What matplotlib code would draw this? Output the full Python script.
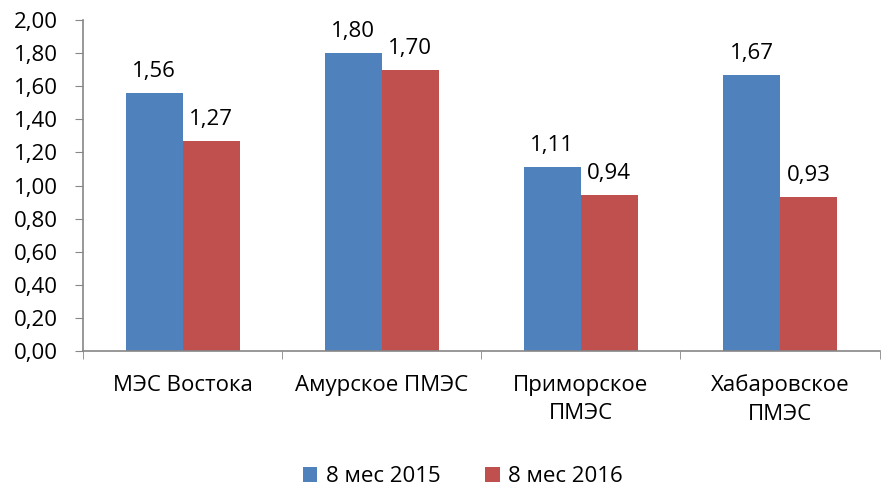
import numpy as np
import matplotlib.pyplot as plt
from matplotlib.ticker import FuncFormatter, FixedLocator

categories = ['МЭС Востока', 'Амурское ПМЭС', 'Приморское\nПМЭС', 'Хабаровское\nПМЭС']
series_names = ['8 мес 2015', '8 мес 2016']
values_2015 = [1.56, 1.80, 1.11, 1.67]
values_2016 = [1.27, 1.70, 0.94, 0.93]

plt.rcParams['font.family'] = ['Open Sans', 'DejaVu Sans']
fs = 16

fig = plt.figure(figsize=(8.85, 4.92), dpi=100)
ax = fig.add_axes([0.0938, 0.2866, 0.9, 0.6727])

x = np.arange(len(categories))
w = 0.286
colors = ['#4F81BD', '#C0504D']
for i, (vals, name) in enumerate([(values_2015, series_names[0]), (values_2016, series_names[1])]):
    pos = x - w / 2 + i * w
    ax.bar(pos, vals, width=w, color=colors[i], label=name)
    for p, v in zip(pos, vals):
        ax.annotate(f'{v:.2f}'.replace('.', ','), (p, v), xytext=(0, 8),
                    textcoords='offset points', ha='center', va='bottom', fontsize=fs)

ax.set_xlim(-0.5, len(categories) - 0.5)
ax.set_ylim(0, 2.0)
ax.set_yticks(np.arange(0, 2.01, 0.2))
ax.yaxis.set_major_formatter(FuncFormatter(lambda v, _: f'{v:.2f}'.replace('.', ',')))

ax.set_xticks(x)
ax.set_xticklabels(categories, linespacing=1.45)
ax.xaxis.set_minor_locator(FixedLocator(np.arange(-0.5, len(categories), 1.0)))
ax.tick_params(axis='x', which='major', length=0, pad=17, labelsize=fs)
ax.tick_params(axis='x', which='minor', length=6, color='#868686', direction='out')
ax.tick_params(axis='y', length=6, color='#868686', direction='out', pad=12, labelsize=fs)

for s in ['top', 'right']:
    ax.spines[s].set_visible(False)
for s in ['left', 'bottom']:
    ax.spines[s].set_color('#868686')
    ax.spines[s].set_linewidth(1.2)

ax.legend(loc='center', bbox_to_anchor=(0.477, -0.38), ncol=2, frameon=False,
          handlelength=0.65, handleheight=0.65, handletextpad=0.4, columnspacing=2.0,
          fontsize=fs)

fig.savefig('out.png', dpi=100)
